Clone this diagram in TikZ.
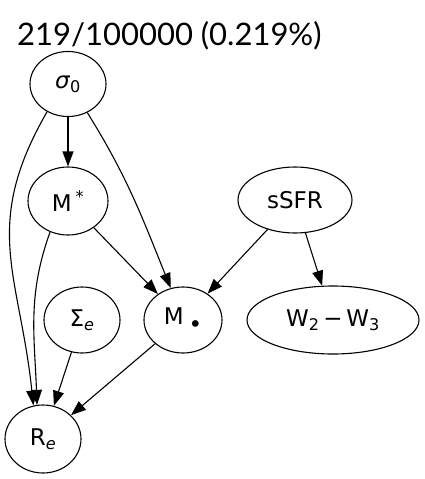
\documentclass[tikz,border=0pt]{standalone}
\usepackage{fontspec}
\setmainfont{DejaVu Sans}
\newfontfamily\titlefont{Lato}
\usetikzlibrary{arrows.meta}
\usetikzlibrary{shapes.geometric}
\tikzset{
        varnode/.style={ellipse, draw=black, line width=1.1pt, inner sep=0pt, font=\fontsize{23}{26}\selectfont},
        % Edges between variables
        edge_dep/.style={line width=1.1pt, -{Triangle[length=15pt, width=11pt]}}
}

\begin{document}
\begin{tikzpicture}[x=1pt, y=-1pt]
    \useasboundingbox (0,0) rectangle (424,479);
    \node[anchor=base west, inner sep=0pt, font=\titlefont\fontsize{31}{34}\selectfont] (title) at (17,45) {219/100000 (0.219\%)};
    % Variables
    \node[varnode, minimum width=76pt, minimum height=65pt] (sigma) at (68,84) {\textit{σ}\textsubscript{0}};
    \node[varnode, minimum width=80pt, minimum height=68pt] (mstar) at (68,201) {M\,\textsuperscript{*}};
    \node[varnode, minimum width=114pt, minimum height=66pt] (ssfr) at (295,200) {sSFR};
    \node[varnode, minimum width=76pt, minimum height=66pt] (sigmae) at (82,320) {Σ\textsubscript{\textit{e}}};
    \node[varnode, minimum width=78pt, minimum height=66pt] (mbh) at (183,320) {M\hspace{0.22em}\raisebox{-0.33em}{•}};
    \node[varnode, minimum width=172pt, minimum height=68pt] (wcolor) at (333,320) {W\textsubscript{2}\,−\,W\textsubscript{3}};
    \node[varnode, minimum width=76pt, minimum height=68pt] (re) at (43,439) {R\textsubscript{\textit{e}}};
    % Dependencies
    \draw[edge_dep] (sigma) -- (mstar);
    \draw[edge_dep] (sigma.233) to[out=240, in=96, looseness=1.15] (re.106);
    \draw[edge_dep] (sigma.304) to[out=-58, in=112] (mbh.111);
    \draw[edge_dep] (mstar.240) to[out=250, in=92] (re.100);
    \draw[edge_dep] (mstar) -- (mbh);
    \draw[edge_dep] (ssfr) -- (mbh);
    \draw[edge_dep] (ssfr) -- (wcolor);
    \draw[edge_dep] (sigmae) -- (re);
    \draw[edge_dep] (mbh) -- (re);
\end{tikzpicture}
\end{document}
